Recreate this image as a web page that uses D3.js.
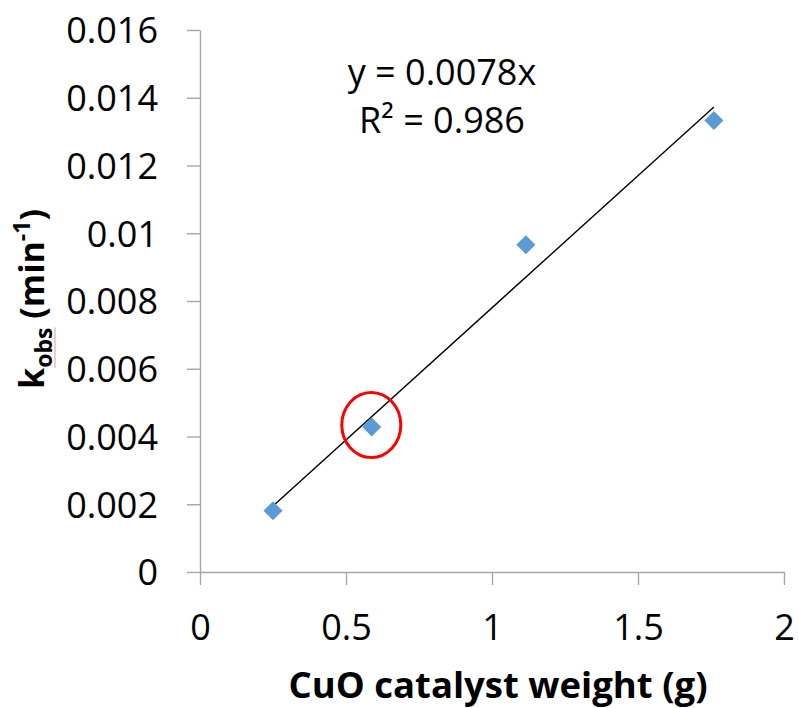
<!doctype html>
<html lang="en">
<head>
    <meta charset="utf-8"/>
    <title>kobs vs CuO weight</title>
    <script src="https://d3js.org/d3.v7.min.js"></script>
    <style>
        body {
            margin: 0;
            padding: 0;
            background: white;
        }

        text {
            font-family: 'Open Sans', sans-serif;
        }
    </style>
</head>
<body>
<script>

    // datos
    const catalystWeight = [0.25, 0.588, 1.116, 1.76]
    const kObs = [0.00181, 0.00428, 0.00966, 0.01333]

    // linea de tendencia (pasa por el origen)
    const slope = 0.0078
    const equationLines = ['y = 0.0078x', 'R² = 0.986']

    const xTicks = [0, 0.5, 1, 1.5, 2]
    const xTickLabels = ['0', '0.5', '1', '1.5', '2']
    const yTicks = [0, 0.002, 0.004, 0.006, 0.008, 0.01, 0.012, 0.014, 0.016]
    const yTickLabels = ['0', '0.002', '0.004', '0.006', '0.008', '0.01', '0.012', '0.014', '0.016']

    // punto marcado con el circulo rojo
    const highlighted = 1

    const width = 798
    const height = 708

    const svg = d3.select('body')
        .append('svg')
        .attr('width', width)
        .attr('height', height)

    const x = d3.scaleLinear().domain([0, 2]).range([200, 784])
    const y = d3.scaleLinear().domain([0, 0.016]).range([572, 30])

    const axisColor = '#a6a6a6'

    // eje x
    const xAxis = svg.append('g')
        .attr('transform', 'translate(0,' + y(0) + ')')
        .call(d3.axisBottom(x)
            .tickValues(xTicks)
            .tickFormat((d, i) => xTickLabels[i])
            .tickSize(13)
            .tickSizeOuter(0))
    xAxis.selectAll('text')
        .attr('dy', null)
        .attr('y', 68)
        .style('font-size', '36px')
        .style('fill', '#000')

    // eje y
    const yAxis = svg.append('g')
        .attr('transform', 'translate(' + x(0) + ',0)')
        .call(d3.axisLeft(y)
            .tickValues(yTicks)
            .tickFormat((d, i) => yTickLabels[i])
            .tickSize(13)
            .tickSizeOuter(0))
    yAxis.selectAll('text')
        .attr('x', -42)
        .attr('dy', '0.36em')
        .style('font-size', '36px')
        .style('fill', '#000')

    svg.selectAll('.domain, .tick line')
        .attr('stroke', axisColor)
        .attr('stroke-width', 1.4)
    svg.selectAll('.tick text').attr('font-family', null)

    // linea de tendencia
    const xMin = d3.min(catalystWeight)
    const xMax = d3.max(catalystWeight)
    svg.append('line')
        .attr('x1', x(xMin))
        .attr('y1', y(slope * xMin))
        .attr('x2', x(xMax))
        .attr('y2', y(slope * xMax))
        .attr('stroke', '#000')
        .attr('stroke-width', 1.4)

    // puntos (rombos)
    svg.selectAll('.pt')
        .data(catalystWeight)
        .enter()
        .append('path')
        .attr('class', 'pt')
        .attr('d', d3.symbol(d3.symbolSquare, 182)())
        .attr('transform', (d, i) => 'translate(' + x(d) + ',' + y(kObs[i]) + ') rotate(45)')
        .attr('fill', '#5b9bd5')

    // circulo rojo
    svg.append('ellipse')
        .attr('cx', x(catalystWeight[highlighted]) - 0.4)
        .attr('cy', y(kObs[highlighted]) - 2)
        .attr('rx', 29.5)
        .attr('ry', 32.5)
        .attr('fill', 'none')
        .attr('stroke', '#ff0000')
        .attr('stroke-width', 3)

    // ecuacion
    svg.selectAll('.eq')
        .data(equationLines)
        .enter()
        .append('text')
        .attr('class', 'eq')
        .attr('x', 442)
        .attr('y', (d, i) => 85 + i * 48)
        .attr('text-anchor', 'middle')
        .style('font-size', '36px')
        .text(d => d)

    // titulo eje x
    svg.append('text')
        .attr('x', 498)
        .attr('y', 698)
        .attr('text-anchor', 'middle')
        .style('font-size', '36.5px')
        .style('font-weight', 'bold')
        .text('CuO catalyst weight (g)')

    // titulo eje y
    const yTitle = svg.append('text')
        .attr('transform', 'translate(44,299) rotate(-90)')
        .attr('text-anchor', 'middle')
        .style('font-size', '34px')
        .style('font-weight', 'bold')
    yTitle.append('tspan').text('k')
    const obs = yTitle.append('tspan')
        .attr('dy', 8)
        .style('font-size', '23px')
        .text('obs')
    yTitle.append('tspan').attr('dy', -8).text(' (min')
    yTitle.append('tspan')
        .attr('dy', -14)
        .style('font-size', '23px')
        .text('-1')
    yTitle.append('tspan').attr('dy', 14).text(')')

    // subrayado rosado del corrector ortografico bajo "obs"
    const bb = obs.node().getBBox()
    svg.append('line')
        .attr('transform', 'translate(44,299) rotate(-90)')
        .attr('x1', bb.x)
        .attr('x2', bb.x + bb.width)
        .attr('y1', 11)
        .attr('y2', 11)
        .attr('stroke', '#f4a0a8')
        .attr('stroke-width', 1.2)

</script>
</body>
</html>
